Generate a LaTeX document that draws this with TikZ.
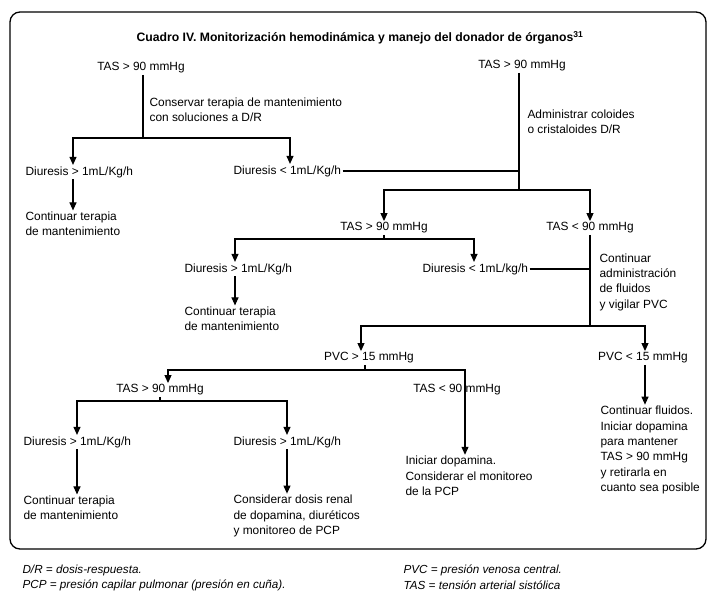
\documentclass[tikz,border=0pt]{standalone}
\usepackage{fontspec}
\setmainfont{Liberation Sans}
\usetikzlibrary{arrows.meta}

\begin{document}
\begin{tikzpicture}[x=1pt,y=-1pt,>={Triangle[width=7pt,length=8pt]},line width=1.1pt,
                    txt/.style={font=\fontsize{11.9}{15.3}\selectfont,inner sep=1pt,align=left},
                    note/.style={font=\fontsize{11.7}{15}\selectfont\itshape,inner sep=0pt,anchor=west}]
\useasboundingbox (0,0) rectangle (713,600);
\draw[line width=1.3pt,rounded corners=10pt] (10,12) rectangle (706,549);

\node[font=\fontsize{12.2}{14}\selectfont\bfseries] (title) at (360,38)
  {Cuadro IV. Monitorización hemodinámica y manejo del donador de órganos\textsuperscript{31}};

% first branch
\node[txt] (tasA) at (141,68) {TAS > 90 mmHg};
\node[txt,anchor=west] (conA) at (148,110) {Conservar terapia de mantenimiento\\con soluciones a D/R};
\node[txt,anchor=west] (diuA1) at (24,172) {Diuresis > 1mL/Kg/h};
\node[txt,anchor=west] (contA1) at (24,224) {Continuar terapia\\de mantenimiento};
\node[txt,anchor=west] (diuA2) at (232,171) {Diuresis < 1mL/Kg/h};

% second branch
\node[txt] (tasB) at (522,66) {TAS > 90 mmHg};
\node[txt,anchor=west] (admB) at (526,122) {Administrar coloides\\o cristaloides D/R};
\node[txt] (tasC) at (384,228) {TAS > 90 mmHg};
\node[txt] (tasD) at (590,228) {TAS < 90 mmHg};
\node[txt,anchor=west] (diuB1) at (183,269) {Diuresis > 1mL/Kg/h};
\node[txt,anchor=west] (contB1) at (183,319) {Continuar terapia\\de mantenimiento};
\node[txt,anchor=west] (diuB2) at (421,269) {Diuresis < 1mL/kg/h};
\node[txt,anchor=west] (admD) at (598,282) {Continuar\\administración\\de fluidos\\y vigilar PVC};
\node[txt] (pvcA) at (369,358) {PVC > 15 mmHg};
\node[txt] (pvcB) at (643,358) {PVC < 15 mmHg};

% lower part
\node[txt] (tasE) at (160,390) {TAS > 90 mmHg};
\node[txt,anchor=west] (diuC1) at (22,442) {Diuresis > 1mL/Kg/h};
\node[txt,anchor=west] (contC1) at (22,508) {Continuar terapia\\de mantenimiento};
\node[txt,anchor=west] (diuC2) at (232,442) {Diuresis > 1mL/Kg/h};
\node[txt,anchor=west] (consC2) at (232,516) {Considerar dosis renal\\de dopamina, diuréticos\\y monitoreo de PCP};
\node[txt] (tasF) at (457,390) {TAS < 90 mmHg};
\node[txt,anchor=west] (iniF) at (404,476) {Iniciar dopamina.\\Considerar el monitoreo\\de la PCP};
\node[txt,anchor=west] (contG) at (599,450) {Continuar fluidos.\\Iniciar dopamina\\para mantener\\TAS > 90 mmHg\\y retirarla en\\cuanto sea posible};

% split points
\coordinate (spA) at (143,138);
\coordinate (armA1) at (73,138);
\coordinate (armA2) at (290,138);
\coordinate (spB) at (519,190);
\coordinate (armB1) at (384,190);
\coordinate (armB2) at (590,190);
\coordinate (spC) at (384,239);
\coordinate (armC1) at (235,239);
\coordinate (armC2) at (474,239);
\coordinate (spD) at (590,326);
\coordinate (armD1) at (361,326);
\coordinate (armD2) at (645,326);
\coordinate (spE) at (365,370);
\coordinate (armE1) at (168,370);
\coordinate (armE2) at (465,370);
\coordinate (spF) at (160,401);
\coordinate (armF1) at (77,401);
\coordinate (armF2) at (287,401);

\draw (tasA.south -| spA) -- (spA);
\draw[->] (spA) -| (diuA1.north -| armA1);
\draw[->] (spA) -| (diuA2.north -| armA2);
\draw[->] (diuA1.south -| armA1) -- (contA1.north -| armA1);

\draw (tasB.south -| spB) -- (spB);
\draw (diuA2) -- (diuA2 -| spB);
\draw[->] (spB) -| (tasC.north -| armB1);
\draw[->] (spB) -| (tasD.north -| armB2);

\draw (tasC.south -| spC) -- (spC);
\draw[->] (spC) -| (diuB1.north -| armC1);
\draw[->] (spC) -| (diuB2.north -| armC2);
\draw[->] (diuB1.south -| armC1) -- (contB1.north -| armC1);

\draw (tasD.south -| spD) -- (spD);
\draw (diuB2) -- (diuB2 -| spD);
\draw[->] (spD) -| (pvcA.north -| armD1);
\draw[->] (spD) -| (pvcB.north -| armD2);
\draw[->] (pvcB.south -| armD2) -- (contG.north -| armD2);

\draw (pvcA.south -| spE) -- (spE);
\draw[->] (spE) -| (tasE.north -| armE1);
\draw[->] (spE) -| (iniF.north -| armE2);

\draw (tasE.south -| spF) -- (spF);
\draw[->] (spF) -| (diuC1.north -| armF1);
\draw[->] (spF) -| (diuC2.north -| armF2);
\draw[->] (diuC1.south -| armF1) -- (contC1.north -| armF1);
\draw[->] (diuC2.south -| armF2) -- (consC2.north -| armF2);

% footnotes
\node[note] (fnDR) at (22,570) {D/R = dosis-respuesta.};
\node[note] (fnPCP) at (22,585) {PCP = presión capilar pulmonar (presión en cuña).};
\node[note] (fnPVC) at (403,570) {PVC = presión venosa central.};
\node[note] (fnTAS) at (403,585) {TAS = tensión arterial sistólica};
\end{tikzpicture}
\end{document}
